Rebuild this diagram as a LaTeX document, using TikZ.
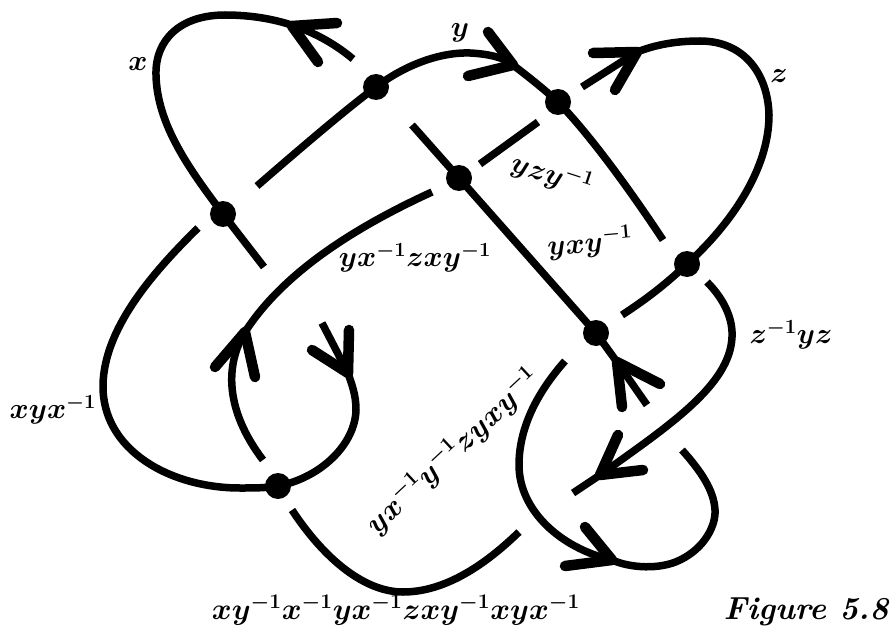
\documentclass[tikz,border=0pt]{standalone}
\usepackage{amsmath,amssymb}
\usepackage{tikz}
\tikzset{
  strand/.style={line width=7.5pt},
  barb/.style={line width=10.5pt, line cap=round, line join=round},
  lab/.style={font=\fontsize{21}{24}\selectfont\boldmath, inner sep=0pt, scale=1.4}
}
\begin{document}
\begin{tikzpicture}[x=1pt, y=-1pt]
  \useasboundingbox (0,0) rectangle (891,631);
  % crossings
  \coordinate (Dtl) at (223,214);
  \coordinate (Dtop) at (376,87);
  \coordinate (Dtr) at (558,102);
  \coordinate (Dmid) at (459,178);
  \coordinate (Dz) at (687,264);
  \coordinate (Dlow) at (596,333);
  \coordinate (Dbot) at (278,486);
  % arcs of the knot
  \draw[strand] (353,59) .. controls (322,33) and (280,15) .. (225,15) .. controls (180,15) and (155,40) .. (156,75)
    .. controls (157,125) and (190,170) .. (Dtl) -- (264,267);
  \draw[strand] (257,186) .. controls (295,153) and (345,110) .. (Dtop) .. controls (405,65) and (440,52) .. (470,53)
    .. controls (490,54) and (505,58) .. (513,65) .. controls (530,78) and (545,90) .. (Dtr)
    .. controls (590,135) and (630,190) .. (663,240);
  \draw[strand] (582,87) -- (637,52) .. controls (655,45) and (675,41) .. (700,41) .. controls (745,41) and (768,75) .. (769,115)
    .. controls (769,170) and (730,225) .. (Dz) .. controls (665,285) and (645,300) .. (622,315);
  \draw[strand] (412,125) -- (Dmid) -- (Dlow) -- (617,362) -- (647,405);
  \draw[strand] (480,164) -- (538,122);
  \draw[strand] (432,192) .. controls (360,225) and (285,270) .. (245,332) .. controls (225,365) and (225,410) .. (263,460);
  \draw[strand] (198,228) .. controls (150,275) and (104,330) .. (103,385) .. controls (102,450) and (170,488) .. (240,488)
    .. controls (255,488) and (265,488) .. (Dbot) .. controls (320,478) and (355,445) .. (356,410)
    .. controls (356,395) and (352,385) .. (348,373) -- (322,323);
  \draw[strand] (292,510) .. controls (325,560) and (365,592) .. (403,592) .. controls (445,592) and (485,565) .. (519,532);
  \draw[strand] (565,361) .. controls (535,395) and (519,430) .. (519,465) .. controls (519,510) and (560,548) .. (612,560)
    .. controls (630,568) and (660,570) .. (680,560) .. controls (705,548) and (716,525) .. (715,510)
    .. controls (714,490) and (700,470) .. (682,450);
  \draw[strand] (707,282) .. controls (725,300) and (733,320) .. (732,337) .. controls (730,385) and (670,425) .. (600,475) -- (573,493);
  % dots
  \foreach \d in {Dtl,Dtop,Dtr,Dmid,Dz,Dlow,Dbot} {
    \fill (\d) circle (13pt);
  }
  % arrowheads
  \draw[barb] (337,23) -- (292,26) -- (318,62);
  \draw[barb] (488,32) -- (513,65) -- (468,76);
  \draw[barb] (593,53) -- (637,52) -- (615,90);
  \draw[barb] (660,384) -- (617,362) -- (622,407);
  \draw[barb] (215,367) -- (245,332) -- (255,377);
  \draw[barb] (349,330) -- (348,373) -- (312,350);
  \draw[barb] (618,435) -- (600,475) -- (643,470);
  \draw[barb] (585,527) -- (612,560) -- (565,566);
  % labels
  \node[lab] (lx) at (138,64) {$x$};
  \node[lab] (ly) at (460,33) {$y$};
  \node[lab] (lz) at (779,76) {$z$};
  \node[lab, rotate=-18] (lyzy) at (552,175) {$yzy^{-1}$};
  \node[lab, rotate=5] (lyxy) at (590,243) {$yxy^{-1}$};
  \node[lab] (lmid) at (415,258) {$yx^{-1}zxy^{-1}$};
  \node[lab] (lzyz) at (791,335) {$z^{-1}yz$};
  \node[lab] (lxyx) at (53,410) {$xyx^{-1}$};
  \node[lab, rotate=43, scale=1.45/1.4] (llong) at (453,451) {$yx^{-1}y^{-1}zyxy^{-1}$};
  \node[lab, scale=1.45/1.4] (lbot) at (396,610) {$xy^{-1}x^{-1}yx^{-1}zxy^{-1}xyx^{-1}$};
  \node[lab, scale=1.52/1.4, font=\fontsize{21}{24}\selectfont\bfseries\itshape] (lfig) at (806,612) {Figure 5.8};
\end{tikzpicture}
\end{document}
